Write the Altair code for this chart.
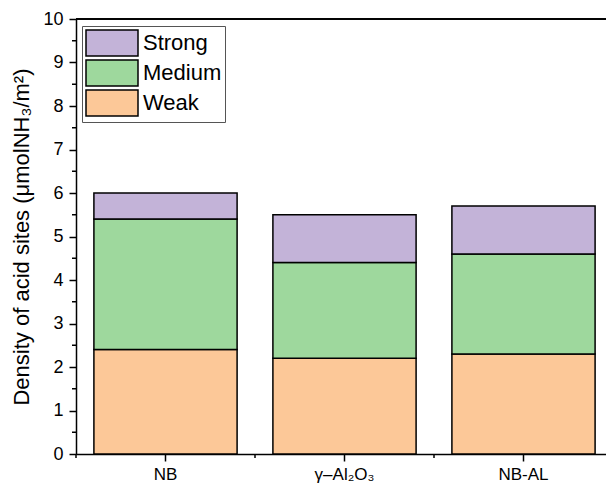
import altair as alt
import pandas as pd

categories = ["NB", "γ–Al₂O₃", "NB-AL"]
weak = [2.4, 2.2, 2.3]
medium = [3.0, 2.2, 2.3]
strong = [0.6, 1.1, 1.1]

series_names = ["Weak", "Medium", "Strong"]
series_values = [weak, medium, strong]
colors = {"Strong": "#C3B3D8", "Medium": "#9ED89D", "Weak": "#FCC898"}

rows = []
for order, (name, vals) in enumerate(zip(series_names, series_values)):
    for c, v in zip(categories, vals):
        rows.append({"cat": c, "type": name, "value": v, "order": order})
df = pd.DataFrame(rows)

minor_y = pd.DataFrame({"v": [i + 0.5 for i in range(10)]})
minor_x = pd.DataFrame({"cat": categories})

FONT = "Liberation Sans"
ytitle = "Density of acid sites (μmolNH₃/m²)"

xscale = alt.Scale(domain=categories, paddingInner=0.2, paddingOuter=0.1, range=[0, 537])
yscale = alt.Scale(domain=[0, 10], nice=False, zero=True)

bars = alt.Chart(df).mark_bar(stroke="black", strokeWidth=1.5).encode(
    x=alt.X("cat:N", scale=xscale, sort=categories,
            axis=alt.Axis(title=None, labelAngle=0, tickSize=7, labelFontSize=17,
                          labelPadding=5, labelFont=FONT, labelColor="black")),
    y=alt.Y("sum(value):Q", scale=yscale, stack="zero",
            axis=alt.Axis(title=ytitle, values=list(range(11)), tickSize=7,
                          labelFontSize=18, labelPadding=6, labelFont=FONT,
                          labelColor="black", titleFont=FONT, titleFontSize=22,
                          titleFontWeight="normal", titleColor="black",
                          titlePadding=9, grid=False)),
    color=alt.Color("type:N",
                    scale=alt.Scale(domain=["Strong", "Medium", "Weak"],
                                    range=[colors["Strong"], colors["Medium"], colors["Weak"]]),
                    legend=alt.Legend(title=None, orient="none", legendX=6, legendY=7,
                                      symbolType="M-1,-1H3V1H-1Z", symbolSize=676,
                                      symbolStrokeColor="black", symbolStrokeWidth=1.5,
                                      symbolOpacity=1,
                                      labelFont=FONT, labelFontSize=22, labelColor="black",
                                      labelOffset=30, rowPadding=-10.5, padding=3,
                                      strokeColor="#555555", fillColor="white")),
    order=alt.Order("order:Q"),
)

ytick_minor = alt.Chart(minor_y).mark_rule(color="black", strokeWidth=1.5).encode(
    y=alt.Y("v:Q", scale=yscale),
    x=alt.value(-4),
    x2=alt.value(0),
)

xtick_minor = alt.Chart(minor_x).mark_rule(color="black", strokeWidth=1.5, xOffset=-17.9).encode(
    x=alt.X("cat:N", scale=xscale, sort=categories, bandPosition=0),
    y=alt.value(435),
    y2=alt.value(439),
)

top_border = alt.Chart(minor_x).mark_rule(color="black", strokeWidth=1.5).encode(
    x=alt.value(0), x2=alt.value(530), y=alt.value(0),
)

chart = alt.layer(bars, ytick_minor, xtick_minor, top_border).properties(
    width=530,
    height=435,
    autosize=alt.AutoSizeParams(type="none"),
    padding={"left": 76, "top": 19, "right": 0, "bottom": 34},
).configure_view(
    stroke=None
).configure_axis(
    domainColor="black", domainWidth=1.5, tickColor="black", tickWidth=1.5
)

chart.save("out.html", embed_options={"renderer": "svg", "actions": False})
